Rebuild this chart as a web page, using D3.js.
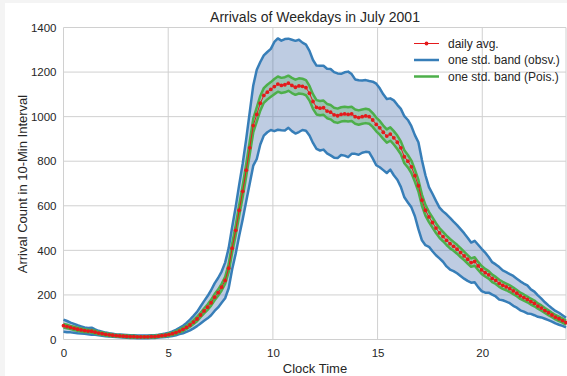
<!DOCTYPE html>
<html>
<head>
<meta charset="utf-8">
<script src="https://cdn.jsdelivr.net/npm/d3@7"></script>
<style>
  body { margin: 0; background: #f4f4f4; }
  svg { position: absolute; left: 5px; top: 3px; background: #fff; }
  text { font-family: "Liberation Sans", Arial, sans-serif; fill: #262626; }
</style>
</head>
<body>
<div id="chart"></div>
<script>
// 10-minute intervals over the day (144 of them)
var nPoints = 144;

// daily average of arrivals in each interval
var dailyAvg = [
    62, 58, 54, 50, 46, 43, 40, 38, 37, 33, 29, 26,
    23, 21, 19, 17, 16, 15, 14, 13, 13, 12, 12, 12,
    12, 13, 13, 15, 17, 19, 22, 26, 31, 38, 45, 54,
    65, 78, 92, 110, 128, 145, 165, 190, 210, 235, 265, 320,
    410, 490, 580, 665, 760, 860, 960, 1010, 1060, 1095, 1110, 1122,
    1135, 1146, 1140, 1143, 1150, 1140, 1132, 1138, 1136, 1130, 1105, 1068,
    1042, 1038, 1040, 1025, 1020, 1008, 1004, 1010, 1012, 1010, 1012, 1000,
    996, 1000, 1003, 1000, 985, 965, 950, 930, 913, 922, 905, 885,
    860, 820, 800, 775, 735, 690, 625, 580, 550, 525, 500, 478,
    462, 445, 430, 418, 405, 390, 375, 360, 345, 350, 330, 312,
    300, 290, 274, 265, 252, 243, 236, 228, 218, 208, 196, 188,
    180, 170, 162, 150, 141, 130, 120, 110, 100, 93, 85, 76
];

// observed standard deviation
var obsStd = [
    27, 25, 22, 20, 18, 16, 14, 14, 16, 12, 10, 9,
    8, 7, 7, 6, 6, 6, 6, 6, 6, 6, 6, 6,
    6, 6, 6, 6, 7, 8, 9, 10, 12, 14, 17, 20,
    24, 28, 32, 38, 44, 50, 56, 62, 66, 70, 80, 90,
    95, 105, 115, 125, 140, 160, 180, 200, 185, 180, 180, 182,
    200, 205, 201, 205, 200, 205, 208, 207, 196, 193, 190, 186,
    187, 190, 188, 190, 194, 192, 190, 182, 187, 192, 179, 167,
    167, 162, 161, 160, 172, 183, 177, 170, 166, 160, 168, 168,
    175, 182, 185, 182, 182, 195, 180, 157, 134, 129, 122, 114,
    113, 117, 116, 111, 108, 105, 102, 97, 90, 93, 95, 95,
    90, 80, 73, 72, 73, 67, 66, 65, 67, 65, 65, 63,
    63, 55, 53, 48, 42, 37, 33, 30, 28, 27, 24, 22
];

// poisson standard deviation
var poisStd = [
    8, 8, 7, 7, 7, 7, 6, 6, 6, 6, 5, 5,
    5, 5, 4, 4, 4, 4, 4, 4, 4, 3, 3, 3,
    3, 4, 4, 4, 4, 4, 5, 5, 6, 6, 7, 7,
    8, 9, 10, 10, 11, 12, 13, 14, 14, 15, 16, 18,
    20, 22, 24, 26, 28, 29, 31, 32, 33, 33, 33, 33,
    34, 34, 34, 34, 34, 34, 34, 34, 34, 34, 33, 33,
    32, 32, 32, 32, 32, 32, 32, 32, 32, 32, 32, 32,
    32, 32, 32, 32, 31, 31, 31, 30, 30, 30, 30, 30,
    29, 29, 28, 28, 27, 26, 25, 24, 23, 23, 22, 22,
    21, 21, 21, 20, 20, 20, 19, 19, 19, 19, 18, 18,
    17, 17, 17, 16, 16, 16, 15, 15, 15, 14, 14, 14,
    13, 13, 13, 12, 12, 11, 11, 10, 10, 10, 9, 9
];

var xTicks = [0, 5, 10, 15, 20];
var yTicks = [0, 200, 400, 600, 800, 1000, 1200, 1400];
var legendLabels = ['daily avg.', 'one std. band (obsv.)', 'one std. band (Pois.)'];

// colors
var red = '#e41a1c', blue = '#377eb8', green = '#4daf4a';

// svg container (offset 5,3 inside page)
var width = 562, height = 373;
var ox = 5, oy = 3;

var svg = d3.select('#chart').append('svg')
    .attr('width', width)
    .attr('height', height);

var g = svg.append('g')
    .attr('transform', `translate(${-ox}, ${-oy})`);

// scales in page coordinates
var x = d3.scaleLinear().domain([0, 24]).range([63.5, 566]);
var y = d3.scaleLinear().domain([0, 1400]).range([339.5, 27.5]);

var data = d3.range(nPoints).map(function(i) {
    return {
        t: i * 24 / (nPoints - 1),
        m: dailyAvg[i],
        s: obsStd[i],
        p: poisStd[i]
    };
});

// grid
g.append('g').selectAll('line')
    .data(yTicks)
    .enter().append('line')
    .attr('x1', x(0)).attr('x2', x(24))
    .attr('y1', d => y(d)).attr('y2', d => y(d))
    .attr('stroke', '#d0d0d0').attr('stroke-width', 1);

g.append('g').selectAll('line')
    .data(xTicks.concat([24]))
    .enter().append('line')
    .attr('x1', d => x(d)).attr('x2', d => x(d))
    .attr('y1', y(0)).attr('y2', y(1400))
    .attr('stroke', '#d0d0d0').attr('stroke-width', 1);

// axes
var xAxis = g.append('g')
    .attr('transform', `translate(0, ${y(0)})`)
    .call(d3.axisBottom(x).tickValues(xTicks).tickFormat(d3.format('d')).tickSize(0).tickPadding(9));
var yAxis = g.append('g')
    .attr('transform', `translate(${x(0)}, 0)`)
    .call(d3.axisLeft(y).tickValues(yTicks).tickFormat(d3.format('d')).tickSize(0).tickPadding(7));

[xAxis, yAxis].forEach(function(a) {
    a.select('.domain').remove();
    a.selectAll('text')
        .style('font-family', '"Liberation Sans", Arial, sans-serif')
        .style('font-size', '11.5px')
        .attr('fill', '#262626');
});

// observed band
g.append('path')
    .datum(data)
    .attr('d', d3.area().x(d => x(d.t)).y0(d => y(d.m - d.s)).y1(d => y(d.m + d.s)))
    .attr('fill', '#4c72b0')
    .attr('fill-opacity', 0.36);

[1, -1].forEach(function(sign) {
    g.append('path')
        .datum(data)
        .attr('d', d3.line().x(d => x(d.t)).y(d => y(d.m + sign * d.s)))
        .attr('fill', 'none')
        .attr('stroke', blue)
        .attr('stroke-width', 2.5)
        .attr('stroke-linejoin', 'round');
});

// poisson band
g.append('path')
    .datum(data)
    .attr('d', d3.area().x(d => x(d.t)).y0(d => y(d.m - d.p)).y1(d => y(d.m + d.p)))
    .attr('fill', green)
    .attr('fill-opacity', 0.3);

[1, -1].forEach(function(sign) {
    g.append('path')
        .datum(data)
        .attr('d', d3.line().x(d => x(d.t)).y(d => y(d.m + sign * d.p)))
        .attr('fill', 'none')
        .attr('stroke', green)
        .attr('stroke-width', 2.5)
        .attr('stroke-linejoin', 'round');
});

// daily average
g.append('path')
    .datum(data)
    .attr('d', d3.line().x(d => x(d.t)).y(d => y(d.m)))
    .attr('fill', 'none')
    .attr('stroke', red)
    .attr('stroke-width', 1);

g.append('g').selectAll('circle')
    .data(data)
    .enter().append('circle')
    .attr('cx', d => x(d.t))
    .attr('cy', d => y(d.m))
    .attr('r', 1.9)
    .attr('fill', red);

// titles
g.append('text')
    .attr('x', 315).attr('y', 22)
    .attr('text-anchor', 'middle')
    .style('font-size', '14px')
    .text('Arrivals of Weekdays in July 2001');

g.append('text')
    .attr('x', 315).attr('y', 373)
    .attr('text-anchor', 'middle')
    .style('font-size', '13px')
    .text('Clock Time');

g.append('text')
    .attr('transform', 'translate(27, 184) rotate(-90)')
    .attr('text-anchor', 'middle')
    .style('font-size', '13px')
    .text('Arrival Count in 10-Min Interval');

// legend
var legendColors = [red, blue, green];
var legend = g.append('g');
legendLabels.forEach(function(label, i) {
    var ly = 43.5 + i * 16.5;
    legend.append('line')
        .attr('x1', 414).attr('x2', 439)
        .attr('y1', ly).attr('y2', ly)
        .attr('stroke', legendColors[i])
        .attr('stroke-width', i === 0 ? 1 : 2.5);
    if (i === 0) {
        legend.append('circle')
            .attr('cx', 426.5).attr('cy', ly).attr('r', 1.9)
            .attr('fill', red);
    }
    legend.append('text')
        .attr('x', 448).attr('y', ly + 4)
        .style('font-size', '12px')
        .text(label);
});
</script>
</body>
</html>
